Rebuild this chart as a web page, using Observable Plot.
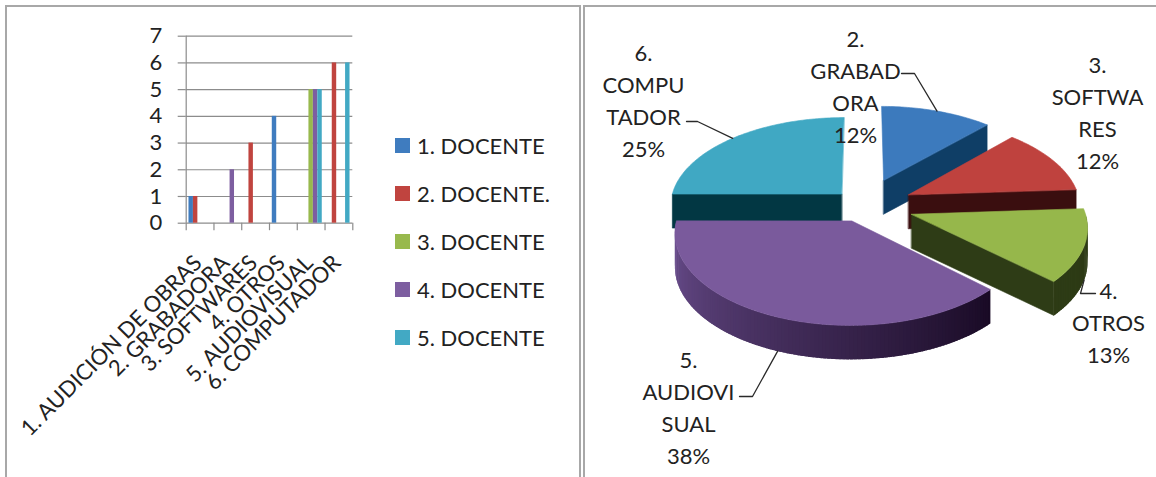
<!DOCTYPE html>
<html>
<head>
<meta charset="utf-8">
<script src="https://cdn.jsdelivr.net/npm/d3@7"></script>
<script src="https://cdn.jsdelivr.net/npm/@observablehq/plot@0.6"></script>
<style>
  html, body { margin: 0; padding: 0; background: #fff; }
  #root { position: relative; width: 1156px; height: 477px; overflow: hidden; font-family: Lato, sans-serif; }
  .panel { position: absolute; top: 0; }
  .border { position: absolute; border: 2px solid #a8a8a8; box-sizing: border-box; }
  #legend { position: absolute; left: 395px; top: 0; }
  .lg { position: absolute; left: 0; height: 24px; display: flex; align-items: center; white-space: nowrap; font-size: 22px; color: #222; font-family: Lato, sans-serif; }
  .sw { width: 15px; height: 15px; margin-right: 7px; flex: none; }
</style>
</head>
<body>
<div id="root">
  <div class="border" style="left:5px;top:5px;width:576px;height:540px"></div>
  <div class="border" style="left:583px;top:5px;width:640px;height:540px"></div>
  <div id="left" class="panel" style="left:0"></div>
  <div id="right" class="panel" style="left:580px"></div>
  <div id="legend"></div>
</div>
<script>
// ---------------- DATA ----------------
const categories = ["1. AUDICIÓN DE OBRAS", "2. GRABADORA", "3. SOFTWARES", "4. OTROS", "5. AUDIOVISUAL", "6. COMPUTADOR"];
const seriesNames = ["1. DOCENTE", "2. DOCENTE.", "3. DOCENTE", "4. DOCENTE", "5. DOCENTE"];
const docente1 = [1, 0, 0, 4, 0, 0];
const docente2 = [1, 0, 3, 0, 0, 6];
const docente3 = [0, 0, 0, 0, 5, 0];
const docente4 = [0, 2, 0, 0, 5, 0];
const docente5 = [0, 0, 0, 0, 5, 6];
const yTicks = [0, 1, 2, 3, 4, 5, 6, 7];

const pieCategories = ["2. GRABADORA", "3. SOFTWARES", "4. OTROS", "5. AUDIOVISUAL", "6. COMPUTADOR"];
const pieValues = [12, 12, 13, 38, 25];
const pieLabelText = ["2.\nGRABAD\nORA", "3.\nSOFTWA\nRES", "4.\nOTROS", "5.\nAUDIOVI\nSUAL", "6.\nCOMPU\nTADOR"];

// ---------------- STYLE / LAYOUT ----------------
const seriesColors = ["#3f7cbf", "#c0443f", "#98b94d", "#7d5ea0", "#42a9c4"];
const pieTopColors = ["#3c7abd", "#bf423e", "#96b74b", "#7a5a9c", "#40a8c3"];
const pieCutColors = ["#0f3e66", "#3a0e0f", "#2e3c16", "#2b1a3d", "#023743"];
const pieWallLight = ["#1d4f80", "#4a1213", "#2f3d16", "#6e5192", "#0a4a5a"];
const pieWallDark  = ["#0f3e66", "#3a0e0f", "#2d3a15", "#190a25", "#023743"];
const explode = [0.32, 0.29, 0.29, 0.186, 0.186];
// label centre offsets from pie centre (px, y up) and leader elbows relative to label
const labelOffset = [[-8.5, 120.5], [233.5, 95], [244.5, -115], [-175.5, -200.5], [-220.5, 106.5]];
const leaderElbow = [[[46, 11.5], [59, 11.5]], null, [[-13, 27], [-28, 27]], [[51, 9.5], [64, 9.5]], [[43, -22.5], [54, -22.5]]];
const FONT = "Lato, sans-serif";
const TEXT = "#222";
const AXIS = "#8c8c8c";

// ---------------- BAR CHART ----------------
const seriesValues = [docente1, docente2, docente3, docente4, docente5];
const bars = [];
seriesValues.forEach((vals, si) => vals.forEach((v, ci) => {
  if (v > 0) bars.push({category: categories[ci], ci, series: seriesNames[si], si, value: v});
}));
const GROUP_PAD = 0.1;
const BAR_W = (1 - 2 * GROUP_PAD) / seriesNames.length;

const leftPlot = Plot.plot({
  width: 580, height: 477,
  marginLeft: 185.7, marginRight: 227.7, marginTop: 35.7, marginBottom: 254.3,
  style: {fontFamily: FONT, fontSize: "22px", color: TEXT, background: "transparent", overflow: "visible"},
  x: {type: "linear", domain: [0, categories.length], axis: null},
  y: {type: "linear", domain: [0, d3.max(yTicks)], axis: null},
  color: {domain: seriesNames, range: seriesColors},
  marks: [
    Plot.gridY(yTicks, {stroke: AXIS, strokeOpacity: 1, strokeWidth: 1.2}),
    Plot.axisY(yTicks, {tickSize: 8, tickPadding: 16, stroke: AXIS, strokeWidth: 1.2, fill: TEXT, fontSize: 22, tickFormat: d => String(d), label: null}),
    Plot.ruleX([0], {stroke: AXIS, strokeWidth: 1.2}),
    Plot.axisX(d3.range(categories.length + 1), {tickSize: 7.5, stroke: AXIS, strokeWidth: 1.2, tickFormat: () => "", label: null}),
    Plot.rectY(bars, {
      x1: d => d.ci + GROUP_PAD + d.si * BAR_W,
      x2: d => d.ci + GROUP_PAD + (d.si + 1) * BAR_W,
      y1: () => 0, y2: "value", fill: "series"
    }),
    Plot.text(categories, {
      x: (d, i) => i + 0.5, y: () => 0, text: d => d,
      rotate: -45, textAnchor: "end", lineAnchor: "bottom",
      dx: 3, dy: 41, fontSize: 22, fill: TEXT
    })
  ]
});
document.getElementById("left").appendChild(leftPlot);

// legend
const lg = document.getElementById("legend");
seriesNames.forEach((s, i) => {
  const row = document.createElement("div");
  row.className = "lg";
  row.style.top = (133 + i * 48.2) + "px";
  const sw = document.createElement("span");
  sw.className = "sw";
  sw.style.background = seriesColors[i];
  row.appendChild(sw);
  row.appendChild(document.createTextNode(s));
  lg.appendChild(row);
});

// ---------------- 3-D PIE ----------------
const W2 = 576, H2 = 477;
const CX = 283.5, CY = 205;         // pie centre in panel pixels
const R = 172, SIN_T = 0.512, PERSP = 0.118, DEPTH = 34;
const total = d3.sum(pieValues);
const arcs = d3.pie().sort(null).value(d => d)(pieValues);

function proj(X, Y, z) {
  const s = 1 / (1 + PERSP * Y);
  return {x: X * s * R, y: Y * SIN_T * s * R - z * DEPTH};
}
const slices = arcs.map((a, i) => {
  const mid = (a.startAngle + a.endAngle) / 2;
  return {i, a0: a.startAngle, a1: a.endAngle, mid, ex: explode[i] * Math.sin(mid), ey: explode[i] * Math.cos(mid)};
});
const faces = [];   // stroked faces
const walls = [];   // smooth shaded wall strips (no stroke)
let pid = 0;
function addPoly(target, pts, fill) {
  const id = pid++;
  pts.forEach(p => target.push({id, fill, x: p.x, y: p.y}));
}
const order = slices.slice().sort((p, q) => d3.descending(Math.cos(p.mid), Math.cos(q.mid)));
const layers = [];
for (const sl of order) {
  const i = sl.i;
  const cut = [], wall = [], top = [];
  const rim = (t, z) => proj(sl.ex + Math.sin(t), sl.ey + Math.cos(t), z);
  const ctr = z => proj(sl.ex, sl.ey, z);
  if (Math.sin(sl.a1) > 1e-6) addPoly(cut, [ctr(0), rim(sl.a1, 0), rim(sl.a1, 1), ctr(1)], pieCutColors[i]);
  if (Math.sin(sl.a0) < -1e-6) addPoly(cut, [ctr(0), rim(sl.a0, 0), rim(sl.a0, 1), ctr(1)], pieCutColors[i]);
  const w0 = Math.max(sl.a0, Math.PI / 2), w1 = Math.min(sl.a1, 3 * Math.PI / 2);
  if (w1 > w0) {
    const n = Math.max(2, Math.ceil((w1 - w0) / (Math.PI / 160)));
    const step = (w1 - w0) / n;
    const shade = d3.interpolateRgb(pieWallLight[i], pieWallDark[i]);
    for (let k = 0; k < n; k++) {
      const t0 = w0 + step * k, t1 = Math.min(w1, t0 + step * 1.8);
      const f = (3 * Math.PI / 2 - (t0 + step / 2)) / (3 * Math.PI / 2 - sl.a0);
      addPoly(wall, [rim(t0, 0), rim(t1, 0), rim(t1, 1), rim(t0, 1)], shade(Math.max(0, Math.min(1, f))));
    }
  }
  const tp = [ctr(0)];
  const m = Math.ceil((sl.a1 - sl.a0) / (Math.PI / 160));
  for (let k = 0; k <= m; k++) tp.push(rim(sl.a0 + (sl.a1 - sl.a0) * k / m, 0));
  addPoly(top, tp, pieTopColors[i]);
  layers.push(cut, wall, top);
}

const labels = slices.map(sl => ({
  text: pieLabelText[sl.i] + "\n" + Math.round(100 * pieValues[sl.i] / total) + "%",
  x: labelOffset[sl.i][0], y: labelOffset[sl.i][1]
}));
const leaders = [];
slices.forEach(sl => {
  const el = leaderElbow[sl.i];
  if (!el) return;
  const lx = labelOffset[sl.i][0], ly = labelOffset[sl.i][1];
  const front = Math.cos(sl.mid) < 0;
  const start = proj(sl.ex + Math.sin(sl.mid), sl.ey + Math.cos(sl.mid), front ? 1 : 0);
  [{x: lx + el[0][0], y: ly + el[0][1]}, {x: lx + el[1][0], y: ly + el[1][1]}, start]
    .forEach(p => leaders.push({id: sl.i, x: p.x, y: p.y}));
});

const pieMarks = layers.map((layer, k) => Plot.line(layer, {
  x: "x", y: "y", z: "id", fill: "fill",
  stroke: k % 3 === 1 ? "none" : "fill", strokeWidth: 0.6, strokeLinejoin: "round", curve: "linear-closed"
}));

const rightPlot = Plot.plot({
  width: W2, height: H2,
  margin: 0,
  style: {fontFamily: FONT, fontSize: "22px", color: TEXT, background: "transparent", overflow: "visible"},
  x: {type: "linear", domain: [-CX, W2 - CX], range: [0, W2], axis: null},
  y: {type: "linear", domain: [-(H2 - CY), CY], range: [H2, 0], axis: null},
  color: {type: "identity"},
  marks: [
    ...pieMarks,
    Plot.line(leaders, {x: "x", y: "y", z: "id", stroke: "#2a2a2a", strokeWidth: 1.3}),
    Plot.text(labels, {x: "x", y: "y", text: "text", lineHeight: 1.46, fontSize: 22, fill: TEXT, textAnchor: "middle", lineAnchor: "middle"})
  ]
});
document.getElementById("right").appendChild(rightPlot);
</script>
</body>
</html>
